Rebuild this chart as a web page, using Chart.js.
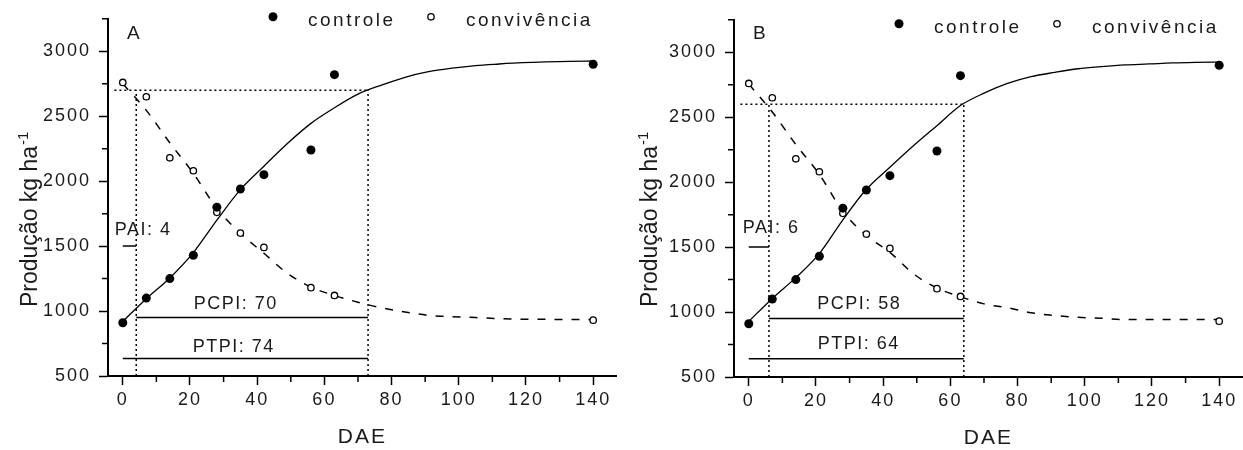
<!DOCTYPE html>
<html>
<head>
<meta charset="utf-8">
<script src="https://cdn.jsdelivr.net/npm/chart.js@4.4.1/dist/chart.umd.min.js"></script>
<style>
  html, body { margin: 0; padding: 0; background: #fff; overflow: hidden; }
  #wrap { position: relative; width: 1243px; height: 450px; overflow: hidden; }
  canvas { position: absolute; }
  #chartA { left: 0; top: 0; }
  #chartB { left: 626px; top: 1px; }
</style>
</head>
<body>
<div id="wrap">
  <canvas id="chartA" width="622" height="450"></canvas>
  <canvas id="chartB" width="622" height="450"></canvas>
</div>
<script>
// observed points (DAE = dias após emergência)
var dae = [0, 7, 14, 21, 28, 35, 42, 56, 63, 140];
var controle = [910, 1100, 1250, 1430, 1800, 1940, 2050, 2240, 2820, 2900];
var convivencia = [2760, 2650, 2180, 2080, 1760, 1600, 1490, 1180, 1120, 930];

// fitted curves, every 7 days
var daeFit = [0, 7, 14, 21, 28, 35, 42, 49, 56, 63, 70, 77, 84, 91, 98, 105, 112, 119, 126, 133, 140];
var fitControleA = [920, 1095, 1255, 1450, 1700, 1935, 2115, 2290, 2445, 2565, 2670, 2740, 2800, 2843, 2870, 2890, 2902, 2912, 2918, 2922, 2925];
var fitConvivenciaA = [2750, 2545, 2295, 2060, 1790, 1598, 1445, 1290, 1185, 1120, 1068, 1025, 993, 967, 957, 950, 942, 937, 936, 935, 935];
var fitControleB = [928, 1105, 1265, 1450, 1710, 1945, 2115, 2280, 2435, 2590, 2685, 2760, 2812, 2845, 2873, 2890, 2903, 2910, 2918, 2922, 2924];
var fitConvivenciaB = [2755, 2540, 2290, 2060, 1775, 1590, 1460, 1295, 1185, 1118, 1063, 1033, 995, 973, 960, 952, 942, 942, 942, 942, 942];

// axis ticks
var xTicks = [0, 20, 40, 60, 80, 100, 120, 140];
var yTicks = [500, 1000, 1500, 2000, 2500, 3000];
var xMinor = [10, 30, 50, 70, 90, 110, 130];
var yMinor = [750, 1250, 1750, 2250, 2750, 3250];

// critical periods: [PAI, PTPI] in DAE, and the accepted yield level
var periodosA = [4, 73];
var periodosB = [6, 64];
var nivelA = 2700;
var nivelB = 2600;
var barrasA = [1500, 950, 635];   // y of PAI, PCPI, PTPI bars
var barrasB = [1500, 950, 640];
var textosA = ['PAI: 4', 'PCPI: 70', 'PTPI: 74'];
var textosB = ['PAI: 6', 'PCPI: 58', 'PTPI: 64'];

var fonte = "'Liberation Sans', Arial, sans-serif";
var corTexto = '#1a1a1a';

function pares(xs, ys) {
  return xs.map(function (v, i) { return { x: v, y: ys[i] }; });
}

// Origin-style spaced lettering
var espacamento = {
  id: 'espacamento',
  beforeUpdate: function (chart) { chart.ctx.letterSpacing = '2px'; },
  beforeDraw: function (chart) { chart.ctx.letterSpacing = '2px'; }
};

var extras = {
  id: 'extras',
  afterDraw: function (chart) {
    var o = chart.options.plugins.extras;
    var ctx = chart.ctx, xs = chart.scales.x, ys = chart.scales.y, area = chart.chartArea;
    ctx.save();
    // minor ticks
    ctx.strokeStyle = '#000';
    ctx.lineWidth = 1.5;
    ctx.beginPath();
    xMinor.forEach(function (v) {
      var p = xs.getPixelForValue(v);
      ctx.moveTo(p, area.bottom); ctx.lineTo(p, area.bottom + 6);
    });
    yMinor.forEach(function (v) {
      var p = ys.getPixelForValue(v);
      ctx.moveTo(area.left, p); ctx.lineTo(area.left - 6, p);
    });
    ctx.stroke();

    // PAI / PCPI / PTPI labels
    ctx.fillStyle = corTexto;
    ctx.letterSpacing = '1.5px';
    ctx.font = '18px ' + fonte;
    ctx.textBaseline = 'alphabetic';
    o.rotulos.forEach(function (r) {
      ctx.textAlign = r.align;
      ctx.fillText(r.texto, xs.getPixelForValue(r.x), ys.getPixelForValue(r.y));
    });

    // panel letter
    ctx.font = '19px ' + fonte;
    ctx.textAlign = 'left';
    ctx.fillText(o.letra, area.left + 19, area.top + o.letraDy);

    // legend
    var ly = area.top + o.legendaDy;
    var ds = chart.data.datasets;
    ctx.fillStyle = '#000';
    ctx.beginPath(); ctx.arc(area.left + 165, ly, 4.5, 0, 2 * Math.PI); ctx.fill();
    ctx.lineWidth = 1.3;
    ctx.beginPath(); ctx.arc(area.left + 323, ly, 3.2, 0, 2 * Math.PI); ctx.stroke();
    ctx.fillStyle = corTexto;
    ctx.font = '19px ' + fonte;
    ctx.letterSpacing = '2.5px';
    ctx.fillText(ds[0].label, area.left + 200, ly + 9);
    ctx.fillText(ds[1].label, area.left + 358, ly + 9);

    // y title with superscript
    ctx.letterSpacing = '0px';
    ctx.translate(o.tituloX, o.tituloY);
    ctx.rotate(-Math.PI / 2);
    ctx.font = '23px ' + fonte;
    var base = 'Produção kg ha';
    ctx.fillText(base, 0, 0);
    var w = ctx.measureText(base).width;
    ctx.font = '15px ' + fonte;
    ctx.fillText('-1', w + 1, -9);
    ctx.restore();
  }
};

function makeChart(id, fitC, fitV, periodos, nivel, barras, textos, pos) {
  var pai = periodos[0], ptpi = periodos[1];
  var linha = function (data, dash, width) {
    return {
      data: data, showLine: true, pointRadius: 0, borderColor: '#000',
      borderWidth: width, borderDash: dash, fill: false
    };
  };
  var datasets = [
    {
      label: 'controle', data: pares(dae, controle), showLine: false,
      pointRadius: 4.5, pointBackgroundColor: '#000', pointBorderColor: '#000', pointBorderWidth: 0
    },
    {
      label: 'convivência', data: pares(dae, convivencia), showLine: false,
      pointRadius: 3.2, pointBackgroundColor: '#fff', pointBorderColor: '#000', pointBorderWidth: 1.3
    },
    Object.assign(linha(pares(daeFit, fitC), [], 1.3), { cubicInterpolationMode: 'monotone' }),
    Object.assign(linha(pares(daeFit, fitV), [8, 9], 1.5), { cubicInterpolationMode: 'monotone' }),
    linha([{ x: -2.5, y: nivel }, { x: ptpi, y: nivel }], [2, 3], 1.5),
    linha([{ x: pai, y: 500 }, { x: pai, y: nivel }], [2, 3], 1.5),
    linha([{ x: ptpi, y: 500 }, { x: ptpi, y: nivel }], [2, 3], 1.5),
    linha([{ x: 0, y: barras[0] }, { x: pai, y: barras[0] }], [], 1.5),
    linha([{ x: pai, y: barras[1] }, { x: ptpi, y: barras[1] }], [], 1.5),
    linha([{ x: 0, y: barras[2] }, { x: ptpi, y: barras[2] }], [], 1.5)
  ];

  var config = {
    type: 'scatter',
    data: { datasets: datasets },
    options: {
      responsive: false,
      animation: false,
      devicePixelRatio: 1,
      layout: { padding: { top: 18, left: 0, right: 0, bottom: 0 } },
      scales: {
        x: {
          type: 'linear', min: -4.4, max: 147,
          afterBuildTicks: function (s) { s.ticks = xTicks.map(function (v) { return { value: v }; }); },
          afterFit: function (s) { s.height = 74; },
          border: { display: true, color: '#000', width: 2 },
          grid: { display: true, drawOnChartArea: false, drawTicks: true, tickLength: 9, tickColor: '#000', tickWidth: 1.5 },
          ticks: {
            color: corTexto, font: { family: fonte, size: 18 }, padding: 4, maxRotation: 0,
            callback: function (v) { return String(v); }
          },
          title: { display: true, text: 'DAE', color: corTexto, font: { family: fonte, size: 21 }, padding: { top: 0, bottom: 0 } }
        },
        y: {
          type: 'linear', min: 500, max: 3250,
          afterBuildTicks: function (s) { s.ticks = yTicks.map(function (v) { return { value: v }; }); },
          afterFit: function (s) { s.width = 108; },
          border: { display: true, color: '#000', width: 2 },
          grid: { display: true, drawOnChartArea: false, drawTicks: true, tickLength: 9, tickColor: '#000', tickWidth: 1.5 },
          ticks: {
            color: corTexto, font: { family: fonte, size: 18 }, padding: 8,
            callback: function (v) { return String(v); }
          }
        }
      },
      plugins: {
        legend: { display: false },
        tooltip: { enabled: false },
        extras: {
          letra: pos.letra, letraDy: pos.letraDy, legendaDy: pos.legendaDy,
          tituloX: pos.tituloX, tituloY: pos.tituloY,
          rotulos: [
            { texto: textos[0], x: pos.pai[0], y: pos.pai[1], align: 'left' },
            { texto: textos[1], x: pos.pcpi[0], y: pos.pcpi[1], align: 'center' },
            { texto: textos[2], x: pos.ptpi[0], y: pos.ptpi[1], align: 'center' }
          ]
        }
      }
    },
    plugins: [espacamento, extras]
  };
  return new Chart(document.getElementById(id), config);
}

makeChart('chartA', fitControleA, fitConvivenciaA, periodosA, nivelA, barrasA, textosA, {
  letra: 'A', letraDy: 20, legendaDy: -2, tituloX: 37, tituloY: 307,
  pai: [-2.4, 1585], pcpi: [33.6, 1015], ptpi: [33, 687]
});
makeChart('chartB', fitControleB, fitConvivenciaB, periodosB, nivelB, barrasB, textosB, {
  letra: 'B', letraDy: 19, legendaDy: 4, tituloX: 31, tituloY: 306,
  pai: [-1.8, 1605], pcpi: [32.9, 1026], ptpi: [32.7, 712]
});
</script>
</body>
</html>
